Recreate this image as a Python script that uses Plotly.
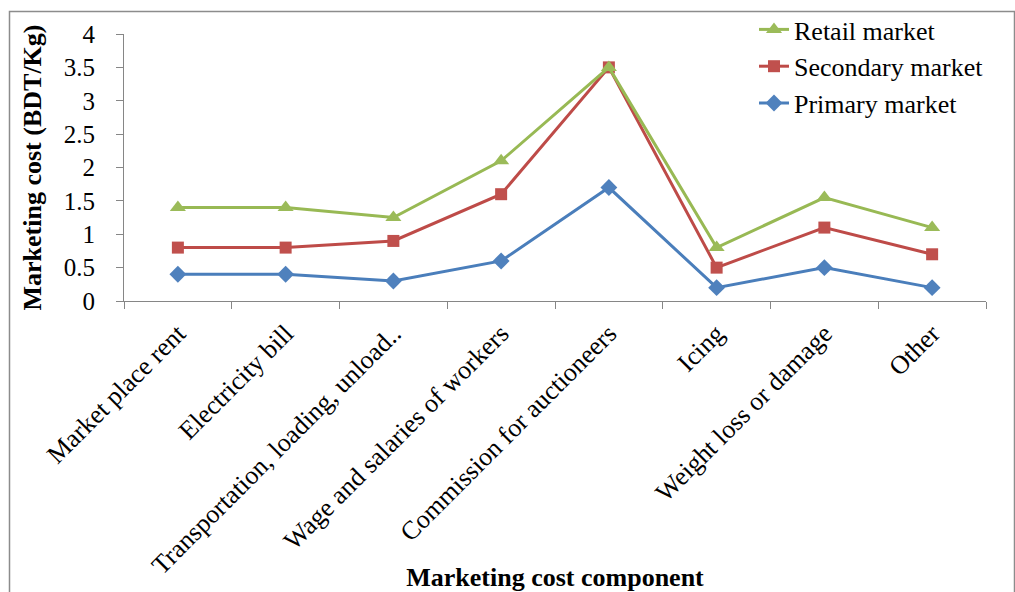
import plotly.graph_objects as go

categories = ["Market place rent", "Electricity bill", "Transportation, loading, unload..",
              "Wage and salaries of workers", "Commission for auctioneers", "Icing",
              "Weight loss or damage", "Other"]
primary = [0.4, 0.4, 0.3, 0.6, 1.7, 0.2, 0.5, 0.2]
secondary = [0.8, 0.8, 0.9, 1.6, 3.5, 0.5, 1.1, 0.7]
retail = [1.4, 1.4, 1.25, 2.1, 3.5, 0.8, 1.55, 1.1]
y_ticks = [0, 0.5, 1, 1.5, 2, 2.5, 3, 3.5, 4]
y_tick_labels = ["0", "0.5", "1", "1.5", "2", "2.5", "3", "3.5", "4"]

FONT = "Liberation Serif"
fig = go.Figure()
series = [
    ("Primary market", primary, "#4A7EBB", "#4F81BD", "diamond", 13, 3),
    ("Secondary market", secondary, "#BE4B48", "#C0504D", "square", 12, 2),
    ("Retail market", retail, "#98B954", "#9BBB59", "triangle-up", 14, 1),
]
for name, vals, lc, mc, sym, ms, rank in series:
    fig.add_trace(go.Scatter(
        x=categories, y=vals, name=name, mode="lines+markers",
        legendrank=rank,
        line=dict(color=lc, width=3),
        marker=dict(symbol=sym, size=ms, color=mc, line=dict(width=0)),
    ))

L, R, T, B = 124, 29, 34, 291
W, H = 1015, 592
pw, ph = W - L - R, H - T - B

def px_x(p):
    return (p - L) / pw

def px_y(p):
    return (H - B - p) / ph

fig.update_layout(
    width=W, height=H,
    margin=dict(l=L, r=R, t=T, b=B, autoexpand=False),
    paper_bgcolor="white", plot_bgcolor="white",
    font=dict(family=FONT, color="black", size=25),
    showlegend=True,
    legend=dict(x=px_x(754), y=px_y(6), xanchor="left", yanchor="top",
                traceorder="normal",
                bgcolor="rgba(0,0,0,0)", font=dict(size=26, family=FONT)),
    xaxis=dict(
        type="category", range=[-0.5, 7.5], showgrid=False, zeroline=False,
        showline=True, linecolor="#868686", linewidth=1,
        ticks="outside", ticklen=7, tickcolor="#868686", tickson="boundaries",
        tickangle=-45, tickfont=dict(size=26, family=FONT), ticklabelstandoff=6,
        title=dict(text="<b>Marketing cost component</b>", font=dict(size=26, family=FONT), standoff=20),
    ),
    yaxis=dict(
        range=[0, 4], tickvals=y_ticks, ticktext=y_tick_labels, showgrid=False, zeroline=False,
        showline=True, linecolor="#868686", linewidth=1,
        ticks="outside", ticklen=7, tickcolor="#868686", ticklabelstandoff=16,
        tickfont=dict(size=25, family=FONT),
        title=dict(text="<b>Marketing cost (BDT/Kg)</b>", font=dict(size=26, family=FONT), standoff=14),
    ),
    shapes=[dict(type="rect", xref="paper", yref="paper",
                 x0=px_x(9.5), x1=px_x(1014.5), y0=px_y(596), y1=px_y(11.5),
                 line=dict(color="#8C8C8C", width=1.5), layer="below")],
)
fig.update_xaxes(automargin=False)
fig.update_yaxes(automargin=False)
fig.write_html("out.html")
